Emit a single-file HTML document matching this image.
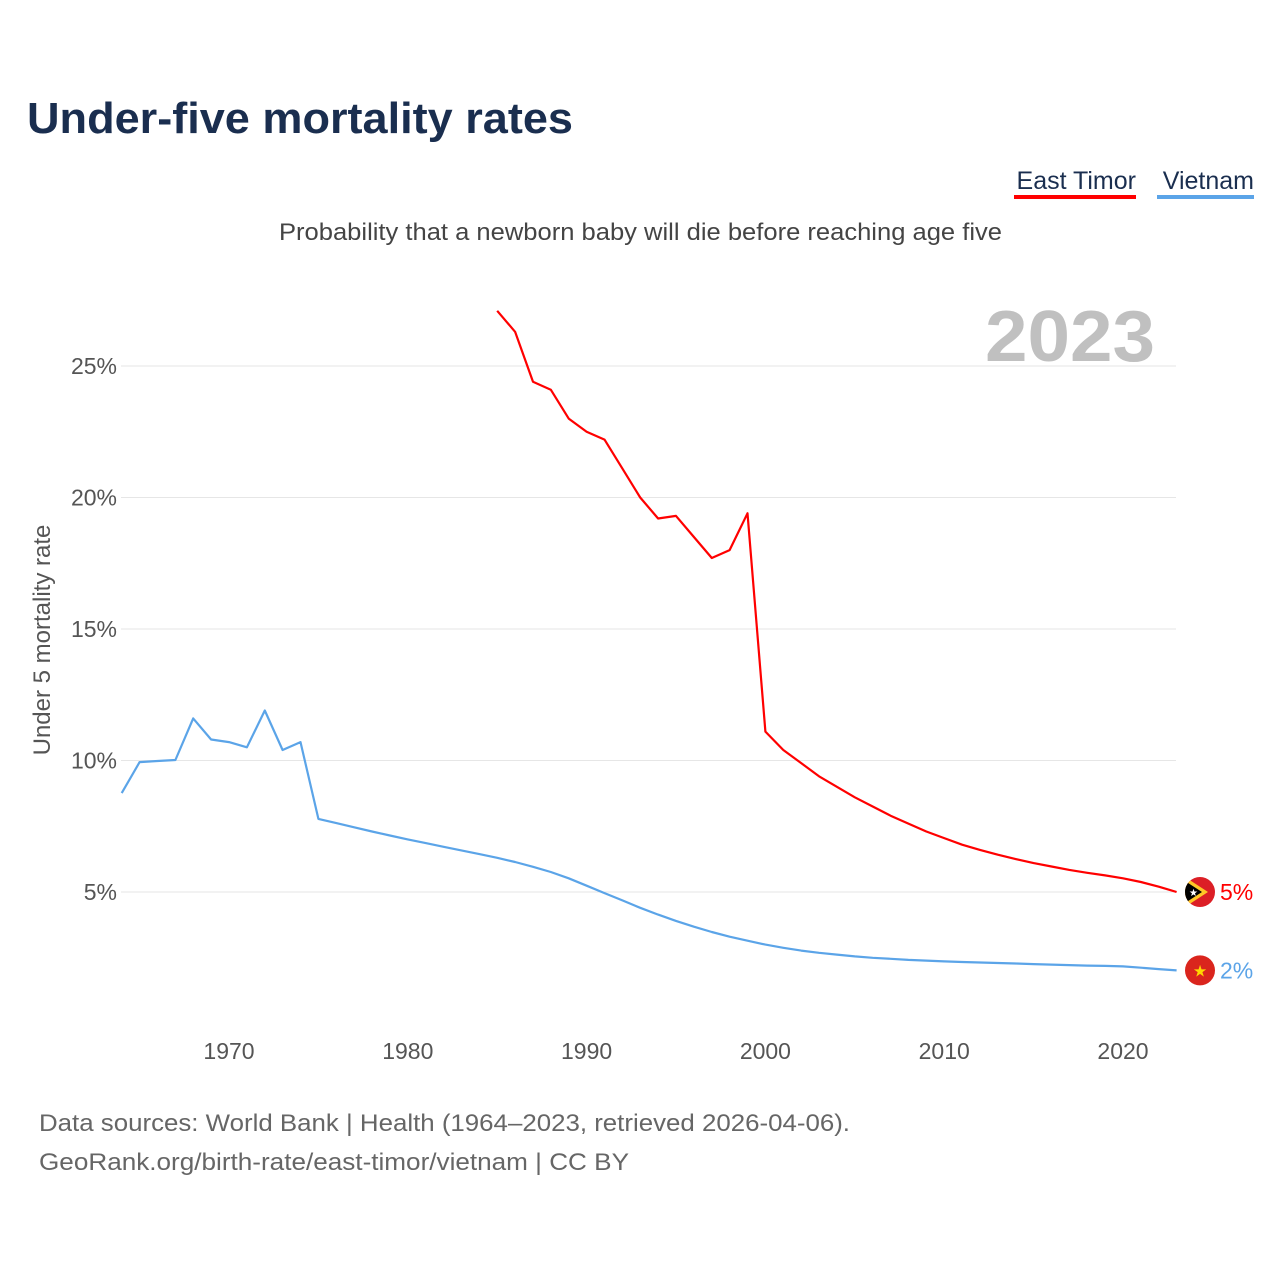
<!DOCTYPE html>
<html><head><meta charset="utf-8"><style>
body{margin:0;background:#fff;font-family:"Liberation Sans",sans-serif;}
#wrap{position:relative;width:1280px;height:1280px;overflow:hidden;}
</style></head><body>
<div id="wrap">
<svg id="svg" width="1280" height="1280" xmlns="http://www.w3.org/2000/svg"></svg>
</div>
<script>
const years=[];for(let y=1964;y<=2023;y++)years.push(y);
const vietnam=[8.76,9.94,9.98,10.02,11.6,10.8,10.7,10.5,11.9,10.4,10.7,7.78,7.62,7.46,7.3,7.15,7.0,6.86,6.72,6.58,6.44,6.3,6.14,5.96,5.76,5.52,5.24,4.96,4.68,4.4,4.14,3.9,3.68,3.48,3.3,3.15,3.0,2.88,2.77,2.69,2.62,2.55,2.5,2.46,2.42,2.39,2.36,2.34,2.32,2.3,2.28,2.26,2.24,2.22,2.2,2.19,2.17,2.12,2.07,2.02];
const timor=[null,null,null,null,null,null,null,null,null,null,null,null,null,null,null,null,null,null,null,null,null,27.1,26.3,24.4,24.1,23.0,22.5,22.2,21.1,20.0,19.2,19.3,18.5,17.7,18.0,19.4,11.1,10.4,9.9,9.4,9.0,8.6,8.25,7.9,7.6,7.3,7.05,6.8,6.6,6.42,6.25,6.1,5.97,5.84,5.73,5.63,5.52,5.38,5.2,5.0];
const yTicks=[5,10,15,20,25];
const xTicks=[1970,1980,1990,2000,2010,2020];
const NS="http://www.w3.org/2000/svg";
const svg=document.getElementById('svg');
const X=y=>229+(y-1970)*17.88;
const Y=v=>1023.5-v*26.3;
function el(tag,attrs,text,parent){const e=document.createElementNS(NS,tag);for(const k in attrs)e.setAttribute(k,attrs[k]);if(text!=null)e.textContent=text;(parent||svg).appendChild(e);return e;}
const F='"Liberation Sans",sans-serif';
let t;
t=el('text',{x:27,y:133,'font-size':44,'font-weight':'bold',fill:'#1a2e4f','font-family':F,textLength:546,lengthAdjust:'spacingAndGlyphs'},'Under-five mortality rates');


t=el('text',{x:279,y:240,'font-size':24,fill:'#444','font-family':F,textLength:723,lengthAdjust:'spacingAndGlyphs'},'Probability that a newborn baby will die before reaching age five');


t=el('text',{x:1136,y:189,'font-size':25,fill:'#1a2e4f','text-anchor':'end','font-family':F},'East Timor');


t=el('rect',{x:1014,y:195,width:122,height:4,fill:'#ff0000'});


t=el('text',{x:1254,y:189,'font-size':25,fill:'#1a2e4f','text-anchor':'end','font-family':F},'Vietnam');


t=el('rect',{x:1157,y:195,width:97,height:4,fill:'#5ba4e8'});


t=el('text',{x:1155,y:361,'font-size':72,'font-weight':'bold',fill:'#c0c0c0','text-anchor':'end','font-family':F,textLength:170,lengthAdjust:'spacingAndGlyphs'},'2023');


yTicks.forEach(v=>{
 t=el('line',{x1:121,x2:1176,y1:Y(v),y2:Y(v),stroke:'#e6e6e6','stroke-width':1});
 
 
 t=el('text',{x:117,y:Y(v)+8,'font-size':23,fill:'#555','text-anchor':'end','font-family':F},v+'%');
 
 
});
xTicks.forEach(v=>{
 t=el('text',{x:X(v),y:1059,'font-size':23,fill:'#555','text-anchor':'middle','font-family':F},String(v));
 
 
});
t=el('text',{x:0,y:0,'font-size':24,fill:'#555','text-anchor':'middle','font-family':F,transform:'translate(50,640) rotate(-90)'},'Under 5 mortality rate');


function path(arr){let d='';arr.forEach((v,i)=>{if(v==null)return;d+=(d?'L':'M')+X(years[i]).toFixed(1)+','+Y(v).toFixed(1);});return d;}
t=el('path',{d:path(vietnam),fill:'none',stroke:'#5ba4e8','stroke-width':2.2,'stroke-linejoin':'round'});


t=el('path',{d:path(timor),fill:'none',stroke:'#ff0000','stroke-width':2.2,'stroke-linejoin':'round'});


const last=years.length-1;
const ty=Y(timor[last]),vy=Y(vietnam[last]);
const cx=1200;
const defs=el('defs',{});
const cp=el('clipPath',{id:'tlclip'},null,defs);
el('circle',{cx:cx,cy:ty,r:15},null,cp);
const g=el('g',{'clip-path':'url(#tlclip)'});


el('rect',{x:cx-15,y:ty-15,width:30,height:30,fill:'#dc1f26'},null,g);
el('path',{d:`M${cx-15},${ty-15}L${cx+8},${ty}L${cx-15},${ty+15}Z`,fill:'#ffc726'},null,g);
el('path',{d:`M${cx-15},${ty-11}L${cx+2},${ty}L${cx-15},${ty+11}Z`,fill:'#000'},null,g);
t=el('text',{x:cx-11,y:ty+4,'font-size':10,fill:'#fff','font-family':'DejaVu Sans'},'★',g);


t=el('circle',{cx:cx,cy:vy,r:15,fill:'#da251d'});


t=el('text',{x:cx,y:vy+6,'font-size':16,fill:'#ffd700','text-anchor':'middle','font-family':'DejaVu Sans'},'★');


t=el('text',{x:1220,y:ty+8,'font-size':23,fill:'#ff0000','font-family':F},Math.round(timor[last])+'%');


t=el('text',{x:1220,y:vy+8,'font-size':23,fill:'#5ba4e8','font-family':F},Math.round(vietnam[last])+'%');


t=el('text',{x:39,y:1131,'font-size':24,fill:'#666','font-family':F,textLength:811,lengthAdjust:'spacingAndGlyphs'},'Data sources: World Bank | Health (1964–2023, retrieved 2026-04-06).');


t=el('text',{x:39,y:1170,'font-size':24,fill:'#666','font-family':F,textLength:590,lengthAdjust:'spacingAndGlyphs'},'GeoRank.org/birth-rate/east-timor/vietnam | CC BY');


</script>
</body></html>
